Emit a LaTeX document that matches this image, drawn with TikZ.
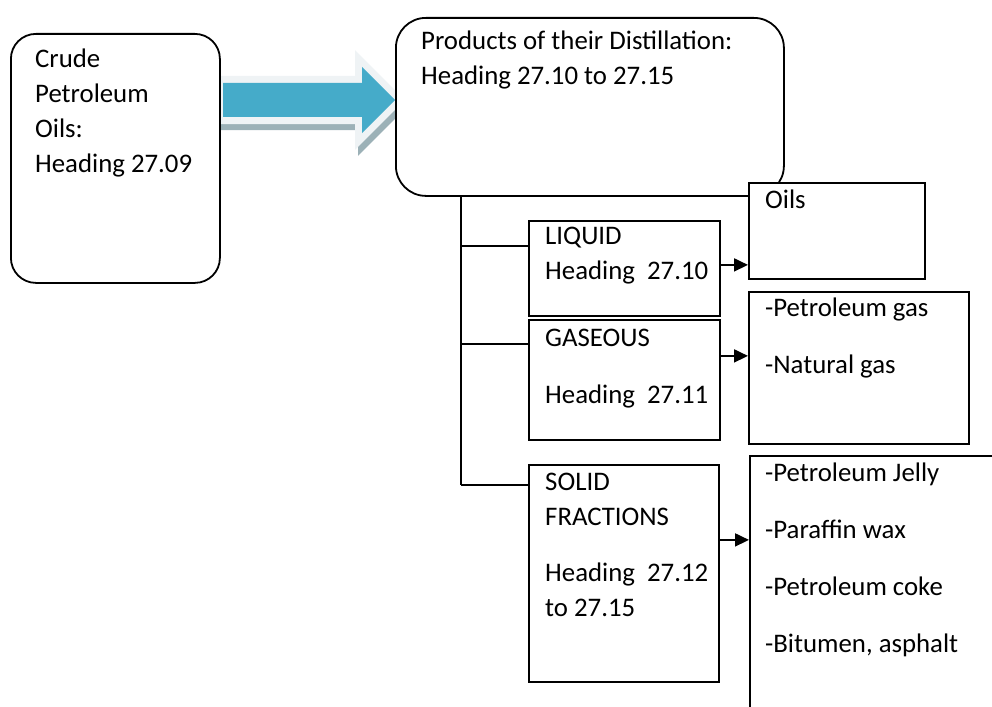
\documentclass[tikz,border=0pt]{standalone}
\usepackage{fontspec}
\setmainfont{Carlito}
\usetikzlibrary{arrows.meta}

\definecolor{arrowteal}{RGB}{69,171,201}
\definecolor{arrowrim}{RGB}{239,243,245}
\definecolor{arrowshade}{RGB}{156,177,183}

\tikzset{
  box/.style = {draw, line width=1.8pt, fill=white, anchor=north west, inner sep=0pt},
  rbox/.style = {box, rounded corners=#1},
  % placed at the baseline of the last line
  txt/.style = {anchor=base west, inner sep=0pt, align=left, font=\fontsize{26.8}{35}\selectfont},
  link/.style = {line width=1.8pt},
  arr/.style = {line width=1.8pt, -{Triangle[length=14pt, width=13pt]}},
}

\begin{document}
\begin{tikzpicture}[x=1pt, y=-1pt]
  \path[use as bounding box, clip] (0,0) rectangle (992,706);

  % big arrow: shadow, rim, body
  \draw[arrowshade, fill=arrowshade, line width=14pt, line join=miter, shift={(3,6)}]
    (223,83) -- (362,83) -- (362,67) -- (395,100) -- (362,133) -- (362,117) -- (223,117) -- cycle;
  \draw[arrowrim, fill=arrowteal, line width=14pt, line join=miter]
    (223,83) -- (362,83) -- (362,67) -- (395,100) -- (362,133) -- (362,117) -- (223,117) -- cycle;
  \fill[arrowteal]
    (223,83) -- (362,83) -- (362,67) -- (395,100) -- (362,133) -- (362,117) -- (223,117) -- cycle;

  % left and top boxes
  \node[rbox=25pt, minimum width=209pt, minimum height=249pt] (crude) at (10,33) {};
  \node[txt] (crudetxt) at (35,172) {Crude\\Petroleum\\Oils:\\Heading 27.09};

  \node[rbox=30pt, minimum width=388pt, minimum height=178pt] (prod) at (395,17) {};
  \node[txt] (prodtxt) at (421,85) {Products of their Distillation:\\Heading 27.10 to 27.15};

  % the three headings
  \node[box, minimum width=191pt, minimum height=95pt] (liquid) at (528,220) {};
  \node[txt] (liquidtxt) at (545,279) {LIQUID\\Heading\ \ 27.10};

  \node[box, minimum width=191pt, minimum height=120pt] (gaseous) at (528,319) {};
  \node[txt] (gaseoustxt) at (545,403) {GASEOUS\\[22pt]Heading\ \ 27.11};

  \node[box, minimum width=190pt, minimum height=217pt] (solid) at (528,464) {};
  \node[txt] (solidtxt) at (545,616) {SOLID\\FRACTIONS\\[21pt]Heading\ \ 27.12\\to 27.15};

  % what each heading covers
  \node[box, minimum width=176pt, minimum height=96pt] (oils) at (748,182) {};
  \node[txt] (oilstxt) at (765,208) {Oils};

  \node[box, minimum width=220pt, minimum height=152pt] (gases) at (748,291) {};
  \node[txt] (gasestxt) at (765,373) {-Petroleum gas\\[22pt]-Natural gas};

  \node[box, minimum width=300pt, minimum height=300pt] (solids) at (749,455) {};
  \node[txt] (solidstxt) at (765,652)
    {-Petroleum Jelly\\[22pt]-Paraffin wax\\[22pt]-Petroleum coke\\[22pt]-Bitumen, asphalt};

  % tree lines
  \coordinate (jliq) at (461,246);
  \coordinate (jgas) at (461,344);
  \coordinate (jsol) at (461,485);
  \draw[link] (prod.south -| jsol) -- (jsol);
  \draw[link] (jliq) -- (jliq -| liquid.west);
  \draw[link] (jgas) -- (jgas -| gaseous.west);
  \draw[link] (jsol) -- (jsol -| solid.west);

  % arrows to the right column
  \draw[arr] ([yshift=3.5pt]liquid.east) -- ([yshift=3.5pt]liquid.east -| oils.west);
  \draw[arr] ([yshift=24pt]gaseous.east) -- ([yshift=24pt]gaseous.east -| gases.west);
  \draw[arr] ([yshift=33.5pt]solid.east) -- ([yshift=33.5pt]solid.east -| solids.west);
\end{tikzpicture}
\end{document}
